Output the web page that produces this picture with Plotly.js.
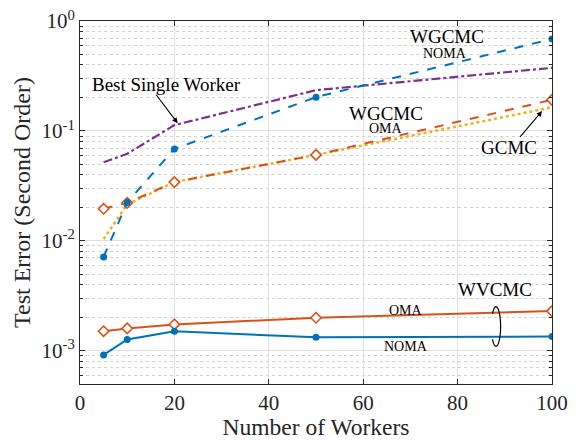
<!DOCTYPE html>
<html>
<head>
<meta charset="utf-8">
<script src="https://cdn.plot.ly/plotly-3.0.1.min.js"></script>
<style>html,body{margin:0;padding:0;background:#fff}#chart{width:578px;height:440px}</style>
</head>
<body>
<div id="chart"></div>
<script>
const workers = [5, 10, 20, 50, 100];
const wvcmcNoma = [0.00092, 0.00127, 0.00151, 0.00133, 0.00135];
const wvcmcOma = [0.00151, 0.00160, 0.00174, 0.00200, 0.00230];
const wgcmcNoma = [0.00716, 0.0224, 0.0687, 0.203, 0.687];
const wgcmcOma = [0.0196, 0.0222, 0.0343, 0.0606, 0.192];
const gcmc = [0.0104, 0.0215, 0.0343, 0.0606, 0.164];
const bestSingle = [0.052, 0.062, 0.113, 0.235, 0.375];
const yTickVals = [0.001, 0.01, 0.1, 1];
const yTickText = ['10<sup>-3</sup>', '10<sup>-2</sup>', '10<sup>-1</sup>', '10<sup>0</sup>'];
const yMinorVals = [0.0005, 0.0006, 0.0007, 0.0008, 0.0009,
  0.002, 0.003, 0.004, 0.005, 0.006, 0.007, 0.008, 0.009,
  0.02, 0.03, 0.04, 0.05, 0.06, 0.07, 0.08, 0.09,
  0.2, 0.3, 0.4, 0.5, 0.6, 0.7, 0.8, 0.9];
const xTickVals = [0, 20, 40, 60, 80, 100];

const BLUE = '#0072BD', ORANGE = '#D95319', YELLOW = '#EDB120', PURPLE = '#7E2F8E';
const FONT = 'Times New Roman';

const traces = [
  {x: workers, y: bestSingle, mode: 'lines', line: {color: PURPLE, width: 2.2, dash: 'dashdot'}},
  {x: workers, y: gcmc, mode: 'lines', line: {color: YELLOW, width: 2.5, dash: 'dot'}},
  {x: workers, y: wgcmcOma, mode: 'lines+markers', line: {color: ORANGE, width: 2, dash: 'dash'},
   marker: {symbol: 'diamond', size: 8, color: 'white', line: {color: ORANGE, width: 1.6}}},
  {x: workers, y: wgcmcNoma, mode: 'lines+markers', line: {color: BLUE, width: 2, dash: 'dash'},
   marker: {symbol: 'circle', size: 7, color: BLUE}},
  {x: workers, y: wvcmcOma, mode: 'lines+markers', line: {color: ORANGE, width: 2},
   marker: {symbol: 'diamond', size: 8, color: 'white', line: {color: ORANGE, width: 1.6}}},
  {x: workers, y: wvcmcNoma, mode: 'lines+markers', line: {color: BLUE, width: 2},
   marker: {symbol: 'circle', size: 7, color: BLUE}}
];

// plot area in pixels: left 80, top 21, width 472, height 363
function pp(px, py) { return ((px - 80) / 472).toFixed(4) + ',' + ((384 - py) / 363).toFixed(4); }
let ell = '';
const cx = 496, cy = 326.5, rx = 4.6, ry = 19.8;
for (let a = -140; a <= 140; a += 10) {
  const t = a * Math.PI / 180;
  ell += (ell ? ' L' : 'M') + pp(cx + rx * Math.cos(t), cy + ry * Math.sin(t));
}

function txt(x, ylog, text, size) {
  return {x: x, y: ylog, xref: 'x', yref: 'y', text: text, showarrow: false,
          font: {family: FONT, size: size, color: '#000'}};
}

const layout = {
  width: 578, height: 440,
  margin: {l: 80, r: 26, t: 21, b: 56},
  paper_bgcolor: '#fff', plot_bgcolor: '#fff',
  showlegend: false,
  font: {family: FONT, color: '#262626'},
  xaxis: {
    range: [0, 100], tickmode: 'array', tickvals: xTickVals, ticks: 'inside', ticklen: 5, tickcolor: '#262626',
    showline: true, linecolor: '#262626', linewidth: 1, mirror: 'ticks',
    showgrid: true, gridcolor: '#e0e0e0', gridwidth: 1, zeroline: false,
    tickfont: {family: FONT, size: 21, color: '#262626'},
    title: {text: 'Number of Workers', font: {family: FONT, size: 23.5, color: '#262626'}, standoff: 5}
  },
  yaxis: {
    type: 'log', range: [Math.log10(5e-4), 0], tickmode: 'array', tickvals: yTickVals, ticktext: yTickText,
    ticks: 'inside', ticklen: 5, tickcolor: '#262626',
    showline: true, linecolor: '#262626', linewidth: 1, mirror: 'ticks',
    showgrid: true, gridcolor: '#e0e0e0', gridwidth: 1, zeroline: false,
    tickfont: {family: FONT, size: 21, color: '#262626'},
    minor: {tickmode: 'array', tickvals: yMinorVals, ticks: 'inside', ticklen: 3, tickcolor: '#262626',
            showgrid: true, griddash: 'dot', gridcolor: '#d2d2d2', gridwidth: 1},
    title: {text: 'Test Error (Second Order)', font: {family: FONT, size: 24, color: '#262626'}, standoff: 4}
  },
  annotations: [
    txt(18.3, -0.574, 'Best Single Worker', 19),
    txt(77.75, -0.139, 'WGCMC', 19),
    txt(77.3, -0.295, 'NOMA', 14),
    txt(64.8, -0.843, 'WGCMC', 19),
    txt(64.8, -0.978, 'OMA', 14),
    txt(90.8, -1.154, 'GCMC', 19),
    txt(88.0, -2.441, 'WVCMC', 19),
    txt(69.1, -2.629, 'OMA', 14),
    txt(69.1, -2.958, 'NOMA', 14),
    {x: 20.7, y: -0.930, xref: 'x', yref: 'y', text: '', showarrow: true, ax: -22.7, ay: -30,
     arrowhead: 2, arrowsize: 1, arrowwidth: 1.1, arrowcolor: '#000'},
    {x: 97.9, y: -0.819, xref: 'x', yref: 'y', text: '', showarrow: true, ax: -23.3, ay: 27.3,
     arrowhead: 2, arrowsize: 1, arrowwidth: 1.1, arrowcolor: '#000'}
  ],
  shapes: [
    {type: 'path', xref: 'paper', yref: 'paper', path: ell, line: {color: '#000', width: 1.2}}
  ]
};

Plotly.newPlot('chart', traces, layout, {staticPlot: true, displayModeBar: false});
</script>
</body>
</html>
